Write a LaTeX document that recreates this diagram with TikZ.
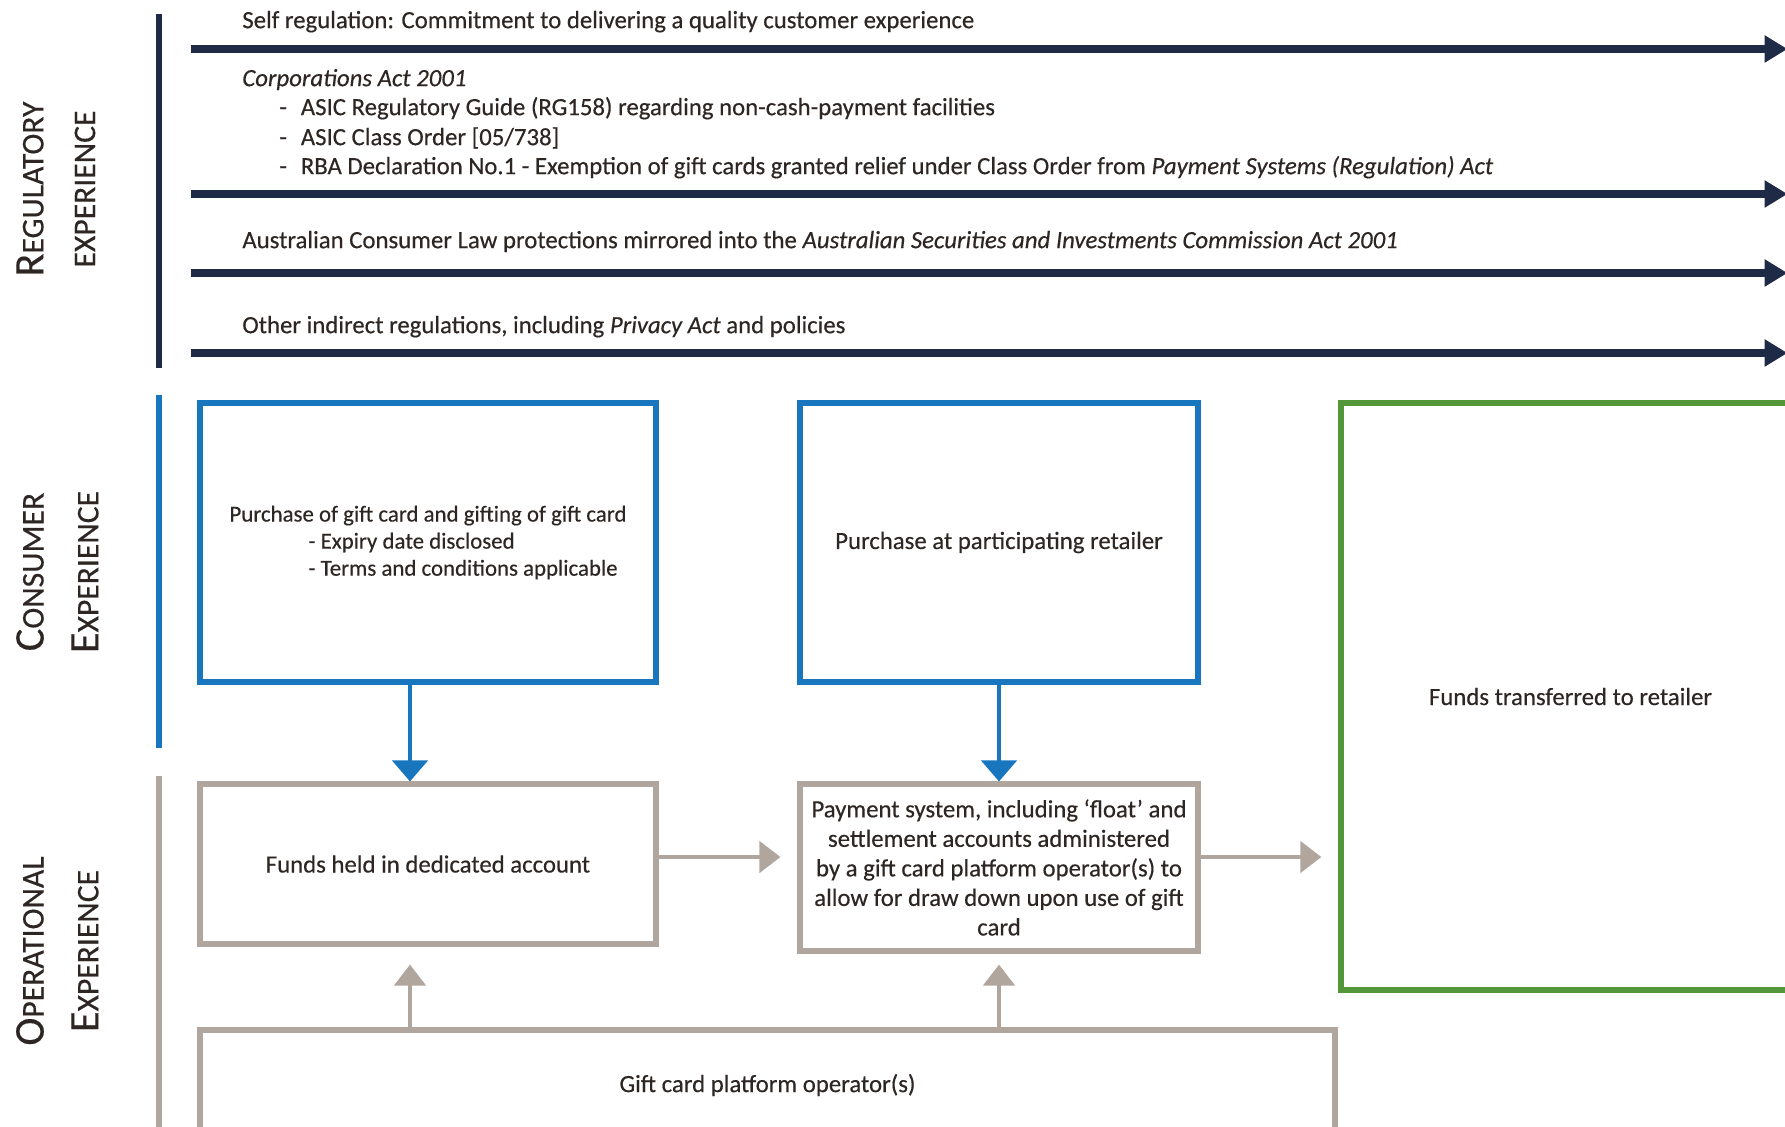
\documentclass[tikz,border=0pt]{standalone}
\usepackage{fontspec}
\setmainfont{Carlito}[FakeBold=0.35]
\usetikzlibrary{arrows.meta,positioning,calc}
\definecolor{navy}{RGB}{30,42,70}
\definecolor{cblue}{RGB}{24,118,190}
\definecolor{opgray}{RGB}{176,166,158}
\definecolor{rgreen}{RGB}{84,150,58}
\definecolor{ink}{RGB}{45,38,35}
\tikzset{regarr/.style={draw=navy, line width=4.2pt, -{Triangle[length=0.46cm,width=0.52cm]}}}
\tikzset{band/.style={line width=3pt}}
\tikzset{boxtext/.style={text=ink, inner sep=0pt, align=center, font=\fontsize{14.1}{16.8}\selectfont}}
\tikzset{blubox/.style={boxtext, draw=cblue, line width=3.4pt}}
\tikzset{grbox/.style={boxtext, draw=opgray, line width=2.9pt}}
\tikzset{grnbox/.style={boxtext, draw=rgreen, line width=3pt}}
\tikzset{bluarr/.style={draw=cblue, line width=2.6pt, -{Triangle[length=0.42cm,width=0.7cm]}}}
\tikzset{grarr/.style={draw=opgray, line width=2.6pt, -{Triangle[length=0.42cm,width=0.62cm]}}}
\tikzset{regtxt/.style={anchor=west, inner sep=0pt, text=ink, text height=10pt, text depth=3pt, font=\fontsize{14.1}{16.8}\selectfont}}
\tikzset{side/.style={rotate=90, text=ink, inner sep=0pt}}
\newcommand{\fakesc}[2]{{\fontsize{24}{24}\selectfont #1}{\fontsize{18}{18}\selectfont #2}}

\begin{document}
\begin{tikzpicture}
	\useasboundingbox (0,0) rectangle (35.7,-22.54);
	\clip (0,0) rectangle (35.7,-22.54);
	
	% section labels and bars
	\node[side] (regA) at (0.6,-3.78) {\fakesc{R}{EGULATORY}};
	\node[side] (regB) at (1.7,-3.78) {\fontsize{18}{18}\selectfont EXPERIENCE};
	\node[side] (consA) at (0.6,-11.44) {\fakesc{C}{ONSUMER}};
	\node[side] (consB) at (1.7,-11.44) {\fakesc{E}{XPERIENCE}};
	\node[side] (opA) at (0.6,-19.02) {\fakesc{O}{PERATIONAL}};
	\node[side] (opB) at (1.7,-19.02) {\fakesc{E}{XPERIENCE}};
	\draw[band, navy] (3.18,-0.28) -- (3.18,-7.36);
	\draw[band, cblue] (3.18,-7.9) -- (3.18,-14.96);
	\draw[band, opgray] (3.18,-15.52) -- (3.18,-22.8);
	
	% regulatory experience
	\node[regtxt] (selfreg) at (4.84,-0.44) {Self regulation: Commitment to delivering a quality customer experience};
	\node[regtxt] (corpact) at (4.84,-1.6) {\textit{Corporations Act 2001}};
	\node[regtxt] (rg158) at (5.58,-2.18) {\makebox[0.43cm][l]{-}ASIC Regulatory Guide (RG158) regarding non-cash-payment facilities};
	\node[regtxt] (classord) at (5.58,-2.78) {\makebox[0.43cm][l]{-}ASIC Class Order [05/738]};
	\node[regtxt] (rbadecl) at (5.58,-3.36) {\makebox[0.43cm][l]{-}RBA Declaration No.1 - Exemption of gift cards granted relief under Class Order from \textit{Payment Systems (Regulation) Act}};
	\node[regtxt] (acl) at (4.84,-4.84) {Australian Consumer Law protections mirrored into the \textit{Australian Securities and Investments Commission Act 2001}};
	\node[regtxt] (other) at (4.84,-6.54) {Other indirect regulations, including \textit{Privacy Act} and policies};
	\foreach \y [count=\i] in {-0.98,-3.88,-5.46,-7.06}{
		\coordinate (rs\i) at (3.82,\y);
		\coordinate (re\i) at (35.75,\y);
		\draw[regarr] (rs\i) -- (re\i);
	}
	
	% consumer and operational boxes
	\node[blubox, minimum width=9.12cm, minimum height=5.58cm, align=left, font=\fontsize{13}{15.4}\selectfont] (buy) at (8.56,-10.85) {Purchase of gift card and gifting of gift card\\\hspace*{1.58cm}- Expiry date disclosed\\\hspace*{1.58cm}- Terms and conditions applicable};
	\node[blubox, minimum width=7.96cm, minimum height=5.58cm] (retail) at (19.98,-10.85) {Purchase at participating retailer};
	\node[grnbox, minimum width=9.18cm, minimum height=11.74cm] (transfer) at (31.41,-13.93) {Funds transferred to retailer};
	\node[grbox, minimum width=9.12cm, minimum height=3.2cm] (held) at (8.56,-17.28) {Funds held in dedicated account};
	\node[grbox, minimum width=7.96cm, minimum height=3.34cm] (paysys) at (19.98,-17.35) {Payment system, including `float' and\\settlement accounts administered\\by a gift card platform operator(s) to\\allow for draw down upon use of gift\\card};
	\node[grbox, minimum width=22.7cm, minimum height=2.2cm] (platform) at (15.35,-21.7) {Gift card platform operator(s)};
	
	\draw[bluarr] ([xshift=-0.36cm]buy.south) -- ([xshift=-0.36cm]held.north);
	\draw[bluarr] (retail.south) -- (paysys.north);
	
	\coordinate (heldout) at ([yshift=0.14cm]held.east);
	\draw[grarr, shorten >=0.34cm] (heldout) -- (heldout -| paysys.west);
	\coordinate (payout) at ([yshift=0.21cm]paysys.east);
	\draw[grarr, shorten >=0.34cm] (payout) -- (payout -| transfer.west);
	
	\coordinate (heldin) at ([xshift=-0.36cm]held.south);
	\draw[grarr, shorten >=0.36cm] (heldin |- platform.north) -- (heldin);
	\draw[grarr, shorten >=0.22cm] (platform.north -| paysys.south) -- (paysys.south);
\end{tikzpicture}
\end{document}
